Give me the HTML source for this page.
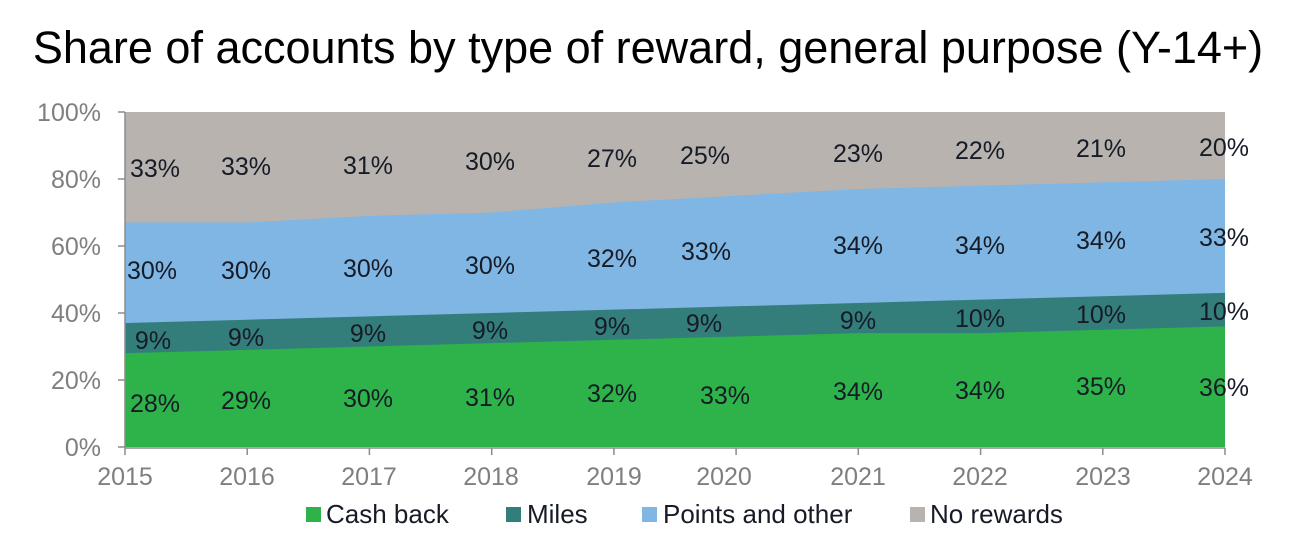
<!DOCTYPE html>
<html><head><meta charset="utf-8"><style>
html,body{margin:0;padding:0;background:#fff;}
svg{display:block;font-family:"Liberation Sans",Arial,sans-serif;}
</style></head><body>
<svg width="1290" height="558" viewBox="0 0 1290 558" xmlns="http://www.w3.org/2000/svg">
<text x="648" y="63" font-size="45" text-anchor="middle" fill="#000">Share of accounts by type of reward, general purpose (Y-14+)</text>
<rect x="125" y="112" width="1100" height="335" fill="#b8b3af"/>
<polygon fill="#7fb6e4" points="125,222.55 247.2,222.55 369.4,215.85 491.7,212.5 613.9,202.45 736.1,195.75 858.3,189.05 980.6,185.7 1102.8,182.35 1225,179 1225,447 125,447"/>
<polygon fill="#337d7b" points="125,323.05 247.2,319.7 369.4,316.35 491.7,313 613.9,309.65 736.1,306.3 858.3,302.95 980.6,299.6 1102.8,296.25 1225,292.9 1225,447 125,447"/>
<polygon fill="#2db34a" points="125,353.2 247.2,349.85 369.4,346.5 491.7,343.15 613.9,339.8 736.1,336.45 858.3,333.1 980.6,333.1 1102.8,329.75 1225,326.4 1225,447 125,447"/>
<g fill="#161b26" font-size="25" text-anchor="middle">
<text x="155" y="177">33%</text><text x="246" y="175">33%</text><text x="368" y="174">31%</text><text x="490" y="170">30%</text><text x="612" y="167">27%</text><text x="705" y="164">25%</text><text x="858" y="162">23%</text><text x="980" y="159">22%</text><text x="1101" y="157">21%</text><text x="1224" y="156">20%</text>
<text x="152" y="279">30%</text><text x="246" y="279">30%</text><text x="368" y="277">30%</text><text x="490" y="274">30%</text><text x="612" y="267">32%</text><text x="706" y="260">33%</text><text x="858" y="254">34%</text><text x="980" y="254">34%</text><text x="1101" y="249">34%</text><text x="1224" y="246">33%</text>
<text x="153" y="349">9%</text><text x="246" y="346">9%</text><text x="368" y="342">9%</text><text x="490" y="339">9%</text><text x="612" y="335">9%</text><text x="704" y="332">9%</text><text x="858" y="329">9%</text><text x="980" y="327">10%</text><text x="1101" y="323">10%</text><text x="1224" y="320">10%</text>
<text x="155" y="412">28%</text><text x="246" y="409">29%</text><text x="368" y="407">30%</text><text x="490" y="406">31%</text><text x="612" y="402">32%</text><text x="725" y="404">33%</text><text x="858" y="400">34%</text><text x="980" y="399">34%</text><text x="1101" y="395">35%</text><text x="1224" y="396">36%</text>
</g>
<g stroke="#8c8c8c" stroke-width="1.5" fill="none">
<line x1="125" y1="112" x2="125" y2="448"/>
<line x1="125" y1="448" x2="1225" y2="448"/>
<line x1="118" y1="112" x2="125" y2="112"/><line x1="118" y1="179" x2="125" y2="179"/><line x1="118" y1="246" x2="125" y2="246"/><line x1="118" y1="313" x2="125" y2="313"/><line x1="118" y1="380" x2="125" y2="380"/><line x1="118" y1="447" x2="125" y2="447"/>
<line x1="125" y1="448" x2="125" y2="455"/><line x1="247.2" y1="448" x2="247.2" y2="455"/><line x1="369.4" y1="448" x2="369.4" y2="455"/><line x1="491.7" y1="448" x2="491.7" y2="455"/><line x1="613.9" y1="448" x2="613.9" y2="455"/><line x1="736.1" y1="448" x2="736.1" y2="455"/><line x1="858.3" y1="448" x2="858.3" y2="455"/><line x1="980.6" y1="448" x2="980.6" y2="455"/><line x1="1102.8" y1="448" x2="1102.8" y2="455"/><line x1="1225" y1="448" x2="1225" y2="455"/>
</g>
<g fill="#7f7f7f" font-size="25" text-anchor="end">
<text x="101" y="121">100%</text><text x="101" y="188">80%</text><text x="101" y="255">60%</text><text x="101" y="322">40%</text><text x="101" y="389">20%</text><text x="101" y="456">0%</text>
</g>
<g fill="#7f7f7f" font-size="25" text-anchor="middle">
<text x="125" y="485">2015</text><text x="247" y="485">2016</text><text x="369" y="485">2017</text><text x="491" y="485">2018</text><text x="614" y="485">2019</text><text x="724" y="485">2020</text><text x="858" y="485">2021</text><text x="980" y="485">2022</text><text x="1103" y="485">2023</text><text x="1225" y="485">2024</text>
</g>
<g font-size="26" fill="#161b26">
<rect x="306" y="507" width="15" height="15" fill="#2db34a"/><text x="326" y="523">Cash back</text>
<rect x="506" y="507" width="15" height="15" fill="#337d7b"/><text x="527" y="523">Miles</text>
<rect x="642" y="507" width="15" height="15" fill="#7fb6e4"/><text x="663" y="523">Points and other</text>
<rect x="910" y="507" width="15" height="15" fill="#b8b3af"/><text x="930" y="523">No rewards</text>
</g>
</svg>
</body></html>
